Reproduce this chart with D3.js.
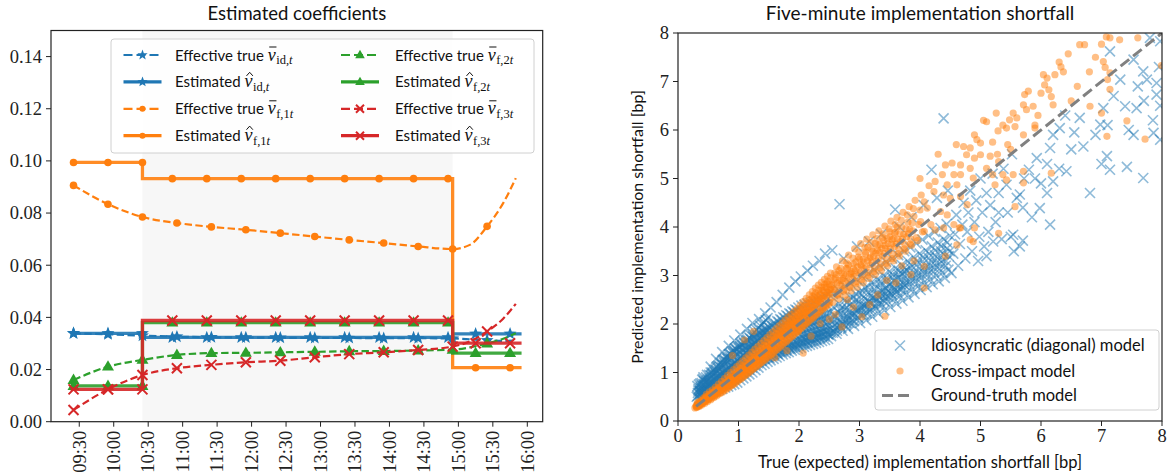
<!DOCTYPE html>
<html><head><meta charset="utf-8">
<script src="https://cdn.jsdelivr.net/npm/d3@7"></script>
<style>body{margin:0;background:#fff}svg{display:block}</style>
</head><body>
<svg id="c" width="1172" height="476"></svg>
<script>
// ---------------- LEFT CHART DATA ----------------
const timeTickLabels = ["09:30","10:00","10:30","11:00","11:30","12:00","12:30","13:00","13:30","14:00","14:30","15:00","15:30","16:00"];
const timeTickMinutes = [0,30,60,90,120,150,180,210,240,270,300,330,360,390];
const yTicksLeft = [0,0.02,0.04,0.06,0.08,0.10,0.12,0.14];
const trueMinutes = [-5,25,55,85,115,145,175,205,235,265,295,325,340,355,369,380];
const trueMarkerMinutes = [-5,25,55,85,115,145,175,205,235,265,295,325,355];
const trueId = [0.0339,0.0335,0.0330,0.0326,0.0324,0.0323,0.0322,0.0321,0.0321,0.0320,0.0320,0.0319,0.0316,0.0312,0.0310,0.0311];
const trueF1 = [0.0906,0.0834,0.0785,0.0762,0.0747,0.0736,0.0723,0.0710,0.0697,0.0685,0.0672,0.0662,0.0678,0.0749,0.0838,0.0934];
const trueF2 = [0.0160,0.0211,0.0237,0.0256,0.0263,0.0264,0.0266,0.0268,0.0270,0.0271,0.0273,0.0276,0.0285,0.0300,0.0318,0.0339];
const trueF3 = [0.0045,0.0124,0.0179,0.0205,0.0218,0.0228,0.0234,0.0247,0.0259,0.0266,0.0275,0.0288,0.0308,0.0346,0.0395,0.0452];
const estBreaks = [-7.5,55,325,385];
const estMarkerMinutes = [[-5,25,55],[81,111,141,171,201,231,261,291,321],[345,375]];
const estId = [0.0339,0.0323,0.0337];
const estF1 = [0.0994,0.0932,0.0207];
const estF2 = [0.0137,0.0380,0.0263];
const estF3 = [0.0124,0.0388,0.0301];
const shadedSpan = [55,325];

// ---------------- RIGHT CHART DATA ----------------
const xTicksRight = [0,1,2,3,4,5,6,7,8];
const yTicksRight = [0,1,2,3,4,5,6,7,8];
const groundTruth = [[0.3,0.3],[8,8]];
const idioPoints = [
[0.31,0.50],[0.33,0.58],[0.34,0.66],[0.32,0.72],[0.35,0.47],[0.36,0.62],
[0.37,0.53],[0.38,0.70],[0.39,0.78],[0.37,0.61],[0.40,0.48],[0.40,0.85],
[0.41,0.58],[0.42,0.66],[0.43,0.82],[0.44,0.52],[0.42,0.90],[0.45,0.74],
[0.46,0.60],[0.47,0.69],[0.48,0.95],[0.49,0.55],[0.47,0.83],[0.50,0.77],
[0.51,0.64],[0.52,0.88],[0.53,0.56],[0.54,1.00],[0.52,0.74],[0.55,0.82],[0.54,1.12],
[0.56,0.68],[0.57,0.94],[0.58,0.60],[0.59,1.05],[0.57,0.79],[0.60,0.87],
[0.61,0.72],[0.62,0.98],[0.63,0.62],[0.64,1.12],[0.62,0.84],[0.65,0.92],[0.63,1.28],
[0.66,0.76],[0.67,1.04],[0.68,0.64],[0.69,1.20],[0.67,0.88],[0.70,0.98],
[0.71,0.80],[0.72,1.10],[0.73,0.66],[0.74,1.26],[0.72,0.93],[0.75,1.02],[0.73,1.42],
[0.76,0.84],[0.77,1.16],[0.78,0.69],[0.79,1.32],[0.77,0.97],[0.80,1.06],
[0.81,0.88],[0.82,1.22],[0.83,0.71],[0.84,1.38],[0.82,1.02],[0.85,1.12],[0.84,1.55],
[0.86,0.92],[0.87,1.28],[0.88,0.74],[0.89,1.44],[0.87,1.06],[0.90,1.17],
[0.91,0.96],[0.92,1.33],[0.93,0.76],[0.94,1.50],[0.92,1.10],[0.95,1.22],[0.93,1.66],
[0.96,1.00],[0.97,1.38],[0.98,0.79],[0.99,1.54],[0.97,1.14],[1.00,1.26],
[1.01,1.04],[1.02,1.42],[1.03,0.84],[1.04,1.58],[1.02,1.18],[1.05,1.30],[1.03,1.78],
[1.06,1.08],[1.07,1.46],[1.08,0.88],[1.09,1.62],[1.07,1.22],[1.10,1.34],
[1.11,1.12],[1.12,1.50],[1.13,0.92],[1.14,1.66],[1.12,1.26],[1.15,1.38],[1.14,1.90],
[1.16,1.16],[1.17,1.54],[1.18,0.96],[1.19,1.70],[1.17,1.30],[1.20,1.42],
[1.21,1.20],[1.22,1.58],[1.23,1.00],[1.24,1.74],[1.22,1.34],[1.25,1.46],[1.23,2.02],
[1.26,1.24],[1.27,1.62],[1.28,1.05],[1.29,1.78],[1.27,1.38],[1.30,1.50],
[1.31,1.28],[1.32,1.66],[1.33,1.10],[1.34,1.82],[1.32,1.42],[1.35,1.55],[1.34,2.10],
[1.36,1.32],[1.37,1.70],[1.38,1.15],[1.39,1.86],[1.37,1.46],[1.40,1.60],
[1.41,1.36],[1.42,1.74],[1.43,1.18],[1.44,1.90],[1.42,1.50],[1.45,1.64],[1.44,2.22],
[1.46,1.40],[1.47,1.78],[1.48,1.22],[1.49,1.94],[1.47,1.54],[1.50,1.68],
[1.51,1.44],[1.52,1.82],[1.53,1.25],[1.54,1.98],[1.52,1.58],[1.55,1.72],[1.53,2.34],
[1.56,1.47],[1.57,1.86],[1.58,1.28],[1.59,2.02],[1.57,1.62],[1.60,1.75],
[1.61,1.50],[1.62,1.90],[1.63,1.31],[1.64,2.06],[1.62,1.66],[1.65,1.78],[1.63,2.45],
[1.66,1.53],[1.67,1.94],[1.68,1.34],[1.69,2.10],[1.67,1.70],[1.70,1.82],
[1.71,1.56],[1.72,1.98],[1.73,1.37],[1.74,2.14],[1.72,1.74],[1.75,1.86],[1.73,2.60],
[1.76,1.58],[1.77,2.02],[1.78,1.40],[1.79,2.18],[1.77,1.76],[1.80,1.90],
[1.81,1.60],[1.82,2.06],[1.83,1.42],[1.84,2.22],[1.82,1.78],[1.85,1.93],[1.84,2.75],
[1.86,1.62],[1.87,2.10],[1.88,1.45],[1.89,2.26],[1.87,1.80],[1.90,1.96],
[1.91,1.64],[1.92,2.14],[1.93,1.47],[1.94,2.30],[1.92,1.82],[1.95,1.99],[1.94,2.88],
[1.96,1.66],[1.97,2.18],[1.98,1.49],[1.99,2.34],[1.97,1.84],[2.00,2.02],
[2.01,1.68],[2.02,2.20],[2.03,1.51],[2.04,2.38],[2.02,1.86],[2.05,2.04],[2.03,2.98],
[2.06,1.70],[2.07,2.22],[2.08,1.53],[2.09,2.40],[2.07,1.88],[2.10,2.06],
[2.11,1.72],[2.12,2.24],[2.13,1.55],[2.14,2.42],[2.12,1.90],[2.15,2.08],[2.14,3.10],
[2.16,1.74],[2.17,2.26],[2.18,1.57],[2.19,2.44],[2.17,1.92],[2.20,2.10],
[2.21,1.76],[2.22,2.28],[2.23,1.59],[2.24,2.46],[2.22,1.94],[2.25,2.12],[2.23,3.20],
[2.26,1.78],[2.27,2.30],[2.28,1.61],[2.29,2.50],[2.27,1.96],[2.30,2.14],
[2.31,1.80],[2.32,2.32],[2.33,1.63],[2.34,2.52],[2.32,1.98],[2.35,2.16],[2.34,3.30],
[2.36,1.82],[2.37,2.34],[2.38,1.65],[2.39,2.55],[2.37,2.00],[2.40,2.18],
[2.41,1.84],[2.42,2.36],[2.43,1.67],[2.44,2.58],[2.42,2.02],[2.45,2.20],[2.43,3.45],
[2.46,1.86],[2.47,2.38],[2.48,1.69],[2.49,2.62],[2.47,2.04],[2.50,2.22],
[2.53,1.75],[2.55,2.05],[2.57,2.35],[2.56,2.62],[2.59,1.90],[2.58,2.20],[2.55,3.52],
[2.62,1.80],[2.64,2.12],[2.66,2.42],[2.65,2.70],[2.68,1.95],[2.69,2.28],[2.67,4.47],
[2.72,1.86],[2.73,2.18],[2.75,2.48],[2.76,2.78],[2.78,2.02],[2.79,2.34],[2.74,3.35],
[2.81,1.90],[2.83,2.24],[2.85,2.55],[2.84,2.85],[2.88,2.08],[2.89,2.40],
[2.91,1.96],[2.92,2.30],[2.94,2.62],[2.95,2.92],[2.97,2.14],[2.99,2.46],[2.96,3.60],
[3.01,2.02],[3.03,2.36],[3.05,2.68],[3.04,2.98],[3.07,2.20],[3.09,2.52],
[3.11,2.08],[3.12,2.42],[3.14,2.75],[3.15,3.05],[3.17,2.26],[3.19,2.58],[3.16,3.70],
[3.21,2.15],[3.23,2.48],[3.25,2.82],[3.24,3.12],[3.27,2.32],[3.29,2.64],
[3.31,2.22],[3.33,2.55],[3.35,2.88],[3.34,3.20],[3.37,2.40],[3.39,2.70],[3.36,3.85],
[3.41,2.28],[3.43,2.62],[3.45,2.95],[3.44,3.28],[3.47,2.46],[3.49,2.78],
[3.51,2.35],[3.53,2.68],[3.55,3.02],[3.54,3.35],[3.57,2.52],[3.59,2.85],[3.59,4.36],
[3.61,2.42],[3.63,2.75],[3.65,3.10],[3.64,3.42],[3.67,2.58],[3.69,2.92],[3.66,4.00],
[3.71,2.48],[3.73,2.82],[3.75,3.16],[3.74,3.50],[3.77,2.65],[3.79,3.00],
[3.81,2.55],[3.83,2.88],[3.85,3.22],[3.84,3.58],[3.87,2.72],[3.89,3.06],[3.86,4.20],
[3.91,2.62],[3.93,2.95],[3.95,3.30],[3.94,3.66],[3.97,2.78],[3.99,3.14],
[4.01,2.70],[4.03,3.02],[4.05,3.38],[4.04,3.74],[4.07,2.86],[4.09,3.20],[4.06,4.45],
[4.11,2.76],[4.13,3.10],[4.15,3.45],[4.14,3.82],[4.17,2.92],[4.19,3.28],[4.19,5.18],
[4.21,2.82],[4.23,3.16],[4.25,3.52],[4.24,3.90],[4.27,3.00],[4.29,3.36],[4.28,4.60],
[4.31,2.88],[4.33,3.24],[4.35,3.60],[4.34,3.98],[4.37,3.06],[4.39,3.44],[4.39,6.24],
[4.41,2.95],[4.43,3.30],[4.45,3.68],[4.44,4.06],[4.47,3.12],[4.49,3.50],[4.46,4.75],
[4.52,3.05],[4.55,3.45],[4.58,3.85],[4.60,4.25],[4.63,3.20],[4.66,3.65],[4.70,4.05],[4.72,4.50],
[4.75,3.35],[4.78,3.90],[4.80,4.30],[4.83,4.75],[4.86,3.50],[4.90,4.10],[4.93,4.55],[4.96,3.30],
[4.98,3.80],[5.00,5.00],[5.03,4.30],[5.06,3.60],[5.10,4.70],[5.13,3.90],[5.16,4.45],[5.21,3.70],
[5.20,5.10],[5.25,4.10],[5.30,4.70],[5.35,3.75],[5.38,5.20],[5.43,4.87],[5.45,4.30],[5.50,3.80],
[5.54,3.84],[5.52,5.50],[5.60,4.60],[5.65,4.67],[5.70,3.72],[5.72,5.00],[5.80,5.18],[5.85,4.20],
[5.93,5.42],[5.98,4.39],[6.00,4.90],[6.10,4.70],[6.10,5.30],[6.15,5.63],[6.15,4.05],[6.20,4.94],
[6.20,5.90],[6.31,6.04],[6.40,6.30],[6.42,5.15],[6.50,5.60],[6.64,6.25],[6.70,5.66],[6.81,4.70],
[6.90,5.90],[6.98,6.11],[7.00,5.30],[7.03,6.45],[7.09,5.46],[7.10,6.10],[7.14,5.18],[7.14,7.62],
[7.20,6.70],[7.31,7.04],[7.39,6.49],[7.42,5.24],[7.45,6.00],[7.53,7.45],[7.53,5.90],[7.58,6.45],
[7.60,6.90],[7.69,7.21],[7.69,5.01],[7.75,7.04],[7.80,7.90],[7.86,5.94],[7.91,6.97],[7.91,6.73],
[7.97,7.83],[7.97,6.50],[7.97,5.80],[7.95,7.30],[7.85,6.20],[7.70,6.60],[6.55,5.95],[6.30,5.20],
[5.90,5.00],[5.70,4.40],[5.30,4.30],[5.10,3.40],[5.55,3.50],[5.65,3.60]
];
const idioPointsDense = [
[0.325,0.52],[0.335,0.63],[0.345,0.75],[0.375,0.57],[0.385,0.66],[0.365,0.77],
[0.425,0.55],[0.435,0.71],[0.415,0.86],[0.475,0.58],[0.485,0.74],[0.465,0.90],
[0.525,0.61],[0.535,0.79],[0.515,0.95],[0.575,0.64],[0.585,0.84],[0.565,1.00],
[0.625,0.67],[0.635,0.90],[0.615,1.06],[0.675,0.70],[0.685,0.94],[0.665,1.14],
[0.725,0.72],[0.735,1.00],[0.715,1.20],[0.775,0.76],[0.785,1.05],[0.765,1.26],
[0.825,0.79],[0.835,1.10],[0.815,1.32],[0.875,0.83],[0.885,1.15],[0.865,1.38],
[0.925,0.86],[0.935,1.20],[0.915,1.44],[0.975,0.90],[0.985,1.25],[0.965,1.48],
[1.025,0.94],[1.035,1.30],[1.015,1.52],[1.075,0.98],[1.085,1.35],[1.065,1.56],
[1.125,1.02],[1.135,1.40],[1.115,1.60],[1.175,1.06],[1.185,1.45],[1.165,1.64],
[1.225,1.10],[1.235,1.50],[1.215,1.68],[1.275,1.14],[1.285,1.54],[1.265,1.72],
[1.325,1.19],[1.335,1.58],[1.315,1.76],[1.375,1.24],[1.385,1.62],[1.365,1.80],
[1.425,1.28],[1.435,1.66],[1.415,1.84],[1.475,1.32],[1.485,1.70],[1.465,1.88],
[1.525,1.35],[1.535,1.74],[1.515,1.92],[1.575,1.38],[1.585,1.78],[1.565,1.96],
[1.625,1.41],[1.635,1.82],[1.615,2.00],[1.675,1.44],[1.685,1.86],[1.665,2.04],
[1.725,1.47],[1.735,1.90],[1.715,2.08],[1.775,1.50],[1.785,1.94],[1.765,2.12],
[1.825,1.52],[1.835,1.98],[1.815,2.16],[1.875,1.55],[1.885,2.02],[1.865,2.20],
[1.925,1.57],[1.935,2.05],[1.915,2.24],[1.975,1.59],[1.985,2.08],[1.965,2.28],
[2.025,1.61],[2.035,1.78],[2.015,1.95],[2.075,1.63],[2.085,1.80],[2.065,1.98],
[2.125,1.65],[2.135,1.82],[2.115,2.00],[2.175,1.67],[2.185,1.84],[2.165,2.02],
[2.225,1.69],[2.235,1.86],[2.215,2.04],[2.275,1.71],[2.285,1.88],[2.265,2.06],
[2.325,1.73],[2.335,1.90],[2.315,2.08],[2.375,1.75],[2.385,1.92],[2.365,2.10],
[2.425,1.77],[2.435,1.94],[2.415,2.12],[2.475,1.79],[2.485,1.96],[2.465,2.14],
[2.525,1.82],[2.545,2.10],[2.575,1.85],[2.595,2.15],[2.625,1.92],[2.645,2.25],[2.675,1.98],[2.695,2.32],
[2.725,2.00],[2.745,2.30],[2.775,2.08],[2.795,2.45],[2.825,2.10],[2.845,2.40],[2.875,2.18],[2.895,2.55],
[2.925,2.20],[2.945,2.50],[2.975,2.28],[2.995,2.65],[3.025,2.28],[3.045,2.60],[3.075,2.36],[3.095,2.75],
[3.125,2.35],[3.145,2.65],[3.175,2.44],[3.195,2.85],[3.225,2.42],[3.245,2.72],[3.275,2.52],[3.295,2.92],
[3.325,2.48],[3.345,2.80],[3.375,2.60],[3.395,3.00],[3.425,2.55],[3.445,2.88],[3.475,2.68],[3.495,3.08],
[3.525,2.62],[3.545,2.95],[3.575,2.75],[3.595,3.15],[3.625,2.68],[3.645,3.02],[3.675,2.82],[3.695,3.22],
[3.725,2.75],[3.745,3.08],[3.775,2.90],[3.795,3.30],[3.825,2.82],[3.845,3.15],[3.875,2.98],[3.895,3.38],
[3.925,2.88],[3.945,3.22],[3.975,3.05],[3.995,3.45],[4.025,2.95],[4.045,3.30],[4.075,3.12],[4.095,3.52],
[4.125,3.02],[4.145,3.36],[4.175,3.20],[4.195,3.60],[4.225,3.08],[4.245,3.42],[4.275,3.26],[4.295,3.68],
[4.325,3.14],[4.345,3.50],[4.375,3.32],[4.395,3.75],[4.425,3.20],[4.445,3.56],[4.475,3.40],[4.495,3.82]
];
const idioPointsCore = [
[0.36,0.56],[0.37,0.68],[0.39,0.60],[0.40,0.73],[0.42,0.62],[0.43,0.76],[0.45,0.64],[0.46,0.80],[0.48,0.67],[0.49,0.85],
[0.51,0.70],[0.52,0.81],[0.54,0.74],[0.55,0.93],[0.57,0.72],[0.58,0.97],[0.60,0.76],[0.61,1.00],[0.63,0.80],[0.64,1.03],
[0.66,0.84],[0.67,1.08],[0.69,0.88],[0.70,1.12],[0.72,0.86],[0.73,1.16],[0.75,0.92],[0.76,1.20],[0.78,0.96],[0.79,1.24],
[0.81,1.00],[0.82,1.28],[0.84,1.04],[0.85,1.32],[0.87,1.08],[0.88,1.36],[0.90,1.12],[0.91,1.40],[0.93,1.16],[0.94,1.44],
[0.96,1.20],[0.97,1.46],[0.99,1.24],[1.00,1.50],[1.02,1.28],[1.03,1.54],[1.05,1.32],[1.06,1.58],[1.08,1.36],[1.09,1.60],
[1.11,1.40],[1.12,1.64],[1.14,1.44],[1.15,1.68],[1.17,1.48],[1.18,1.72],[1.20,1.52],[1.21,1.76],[1.23,1.56],[1.24,1.80],
[1.26,1.58],[1.27,1.84],[1.29,1.62],[1.30,1.88],[1.32,1.66],[1.33,1.92],[1.35,1.70],[1.36,1.96],[1.38,1.74],[1.39,2.00],
[1.41,1.78],[1.42,2.04],[1.44,1.82],[1.45,2.08],[1.47,1.86],[1.48,2.12],
[1.51,1.30],[1.54,1.40],[1.58,1.34],[1.61,1.44],[1.65,1.38],[1.68,1.48],[1.72,1.42],[1.75,1.52],[1.79,1.45],[1.82,1.55],
[1.86,1.49],[1.89,1.58],[1.93,1.52],[1.96,1.62],[2.00,1.56],[2.03,1.65],[2.07,1.60],[2.10,1.68],[2.14,1.62],[2.17,1.72],
[2.21,1.66],[2.24,1.75],[2.28,1.68],[2.31,1.78],[2.35,1.72],[2.38,1.82],[2.42,1.74],[2.45,1.85],[2.49,1.78],[2.52,1.90],
[2.56,1.82],[2.59,1.98],[2.63,1.86],[2.66,2.05],[2.70,1.92],[2.73,2.10],[2.77,1.96],[2.80,2.16],[2.84,2.02],[2.87,2.22],
[2.91,2.06],[2.94,2.28],[2.98,2.12],[3.01,2.34],[3.05,2.18],[3.08,2.40],[3.12,2.22],[3.15,2.46],[3.19,2.30],[3.22,2.54],
[3.26,2.36],[3.29,2.60],[3.33,2.42],[3.36,2.68],[3.40,2.48],[3.43,2.74],[3.47,2.56],[3.50,2.82],[3.54,2.60],[3.57,2.90],
[3.61,2.66],[3.64,2.96],[3.68,2.72],[3.71,3.04],[3.75,2.80],[3.78,3.10]
];
const crossPoints = [
[0.28,0.27],[0.30,0.32],[0.31,0.28],[0.32,0.38],[0.33,0.30],
[0.34,0.35],[0.35,0.30],[0.36,0.41],[0.37,0.34],[0.38,0.38],
[0.39,0.33],[0.40,0.43],[0.41,0.37],[0.42,0.47],[0.43,0.40],
[0.44,0.36],[0.45,0.50],[0.46,0.42],[0.47,0.55],[0.48,0.45],
[0.49,0.40],[0.50,0.52],[0.51,0.46],[0.52,0.60],[0.53,0.49],
[0.54,0.44],[0.55,0.56],[0.56,0.50],[0.57,0.64],[0.58,0.53],
[0.59,0.48],[0.60,0.60],[0.61,0.54],[0.62,0.70],[0.63,0.57],
[0.64,0.52],[0.65,0.65],[0.66,0.58],[0.67,0.76],[0.68,0.62],
[0.69,0.56],[0.70,0.70],[0.71,0.63],[0.72,0.82],[0.73,0.66],
[0.74,0.60],[0.75,0.75],[0.76,0.68],[0.77,0.88],[0.78,0.71],
[0.79,0.64],[0.80,0.80],[0.81,0.72],[0.82,0.94],[0.83,0.76],
[0.84,0.68],[0.85,0.85],[0.86,0.77],[0.87,1.00],[0.88,0.81],
[0.89,0.73],[0.90,0.90],[0.91,0.82],[0.92,1.06],[0.93,0.86],
[0.94,0.77],[0.95,0.95],[0.96,0.87],[0.97,1.12],[0.98,0.91],
[0.99,0.82],[1.00,1.00],[1.01,0.92],[1.02,1.18],[1.03,0.96],
[1.04,0.86],[1.05,1.05],[1.06,0.97],[1.07,1.24],[1.08,1.01],
[1.09,0.91],[1.10,1.10],[1.11,1.02],[1.12,1.30],[1.13,1.06],
[1.14,0.96],[1.15,1.15],[1.16,1.07],[1.17,1.36],[1.18,1.12],
[1.19,1.01],[1.20,1.21],[1.21,1.12],[1.22,1.42],[1.23,1.17],
[1.24,1.06],[1.25,1.27],[1.26,1.17],[1.27,1.48],[1.28,1.22],
[1.29,1.11],[1.30,1.33],[1.31,1.22],[1.32,1.54],[1.33,1.28],
[1.34,1.16],[1.35,1.39],[1.36,1.28],[1.37,1.60],[1.38,1.34],
[1.39,1.21],[1.40,1.45],[1.41,1.33],[1.42,1.66],[1.43,1.39],
[1.44,1.26],[1.45,1.51],[1.46,1.38],[1.47,1.72],[1.48,1.45],
[1.49,1.31],[1.50,1.57],[1.51,1.44],[1.52,1.78],[1.53,1.50],
[1.54,1.36],[1.55,1.63],[1.56,1.49],[1.57,1.84],[1.58,1.56],
[1.59,1.42],[1.60,1.69],[1.61,1.55],[1.62,1.90],[1.63,1.62],
[1.64,1.47],[1.65,1.75],[1.66,1.61],[1.67,1.96],[1.68,1.68],
[1.69,1.52],[1.70,1.81],[1.71,1.66],[1.72,2.02],[1.73,1.74],
[1.74,1.58],[1.75,1.87],[1.76,1.72],[1.77,2.08],[1.78,1.80],
[1.79,1.63],[1.80,1.93],[1.81,1.78],[1.82,2.14],[1.83,1.86],
[1.84,1.69],[1.85,1.99],[1.86,1.84],[1.87,2.20],[1.88,1.92],
[1.89,1.74],[1.90,2.05],[1.91,1.90],[1.92,2.26],[1.93,1.98],
[1.94,1.80],[1.95,2.11],[1.96,1.96],[1.97,2.32],[1.98,2.04],
[1.99,1.86],[2.00,2.18],[2.01,2.02],[2.02,2.39],[2.03,2.10],
[2.04,1.91],[2.05,2.24],[2.06,2.08],[2.07,2.46],[2.08,2.16],
[2.09,1.97],[2.10,2.30],[2.11,2.14],[2.12,2.53],[2.13,2.22],
[2.14,2.02],[2.15,2.37],[2.16,2.20],[2.17,2.60],[2.18,2.28],
[2.19,2.08],[2.20,2.43],[2.21,2.26],[2.22,2.67],[2.23,2.34],
[2.24,2.13],[2.25,2.50],[2.26,2.32],[2.27,2.74],[2.28,2.41],
[2.29,2.19],[2.30,2.56],[2.31,2.38],[2.32,2.80],[2.33,2.47],
[2.34,2.24],[2.35,2.63],[2.36,2.44],[2.37,2.86],[2.38,2.53],
[2.39,2.30],[2.40,2.69],[2.41,2.50],[2.42,2.92],[2.43,2.59],
[2.44,2.35],[2.45,2.76],[2.46,2.56],[2.47,2.98],[2.48,2.65],
[2.49,2.40],[2.50,2.82],[2.51,2.62],[2.52,3.05],[2.53,2.71],
[2.56,2.45],[2.58,2.72],[2.60,2.95],[2.62,3.18],[2.64,2.60],[2.63,2.85],
[2.66,2.52],[2.68,2.80],[2.70,3.05],[2.72,3.30],[2.74,2.68],[2.73,2.94],
[2.76,2.60],[2.78,2.88],[2.80,3.14],[2.82,3.42],[2.84,2.76],[2.83,3.02],
[2.86,2.68],[2.88,2.96],[2.90,3.24],[2.92,3.55],[2.94,2.84],[2.93,3.10],
[2.96,2.76],[2.98,3.05],[3.00,3.34],[3.02,3.66],[3.04,2.92],[3.03,3.20],
[3.06,2.85],[3.08,3.14],[3.10,3.44],[3.12,3.75],[3.14,3.00],[3.13,3.30],
[3.16,2.94],[3.18,3.22],[3.20,3.54],[3.22,3.84],[3.24,3.08],[3.23,3.40],
[3.26,3.02],[3.28,3.30],[3.30,3.62],[3.32,3.92],[3.34,3.16],[3.33,3.48],
[3.36,3.10],[3.38,3.40],[3.40,3.72],[3.42,4.02],[3.44,3.25],[3.43,3.56],
[3.46,3.20],[3.48,3.50],[3.50,3.80],[3.52,4.12],[3.54,3.35],[3.53,3.65],
[3.56,3.30],[3.58,3.60],[3.60,3.90],[3.62,4.20],[3.64,3.45],[3.63,3.75],
[3.66,3.40],[3.68,3.70],[3.70,4.00],[3.72,4.30],[3.74,3.55],[3.73,3.85],
[3.76,3.50],[3.78,3.80],[3.80,4.10],[3.82,4.42],[3.84,3.65],[3.83,3.95],
[3.86,3.62],[3.88,3.92],[3.90,4.22],[3.92,4.55],[3.94,3.78],
[3.96,3.72],[3.98,4.05],[4.00,4.35],[4.02,4.66],[4.04,3.90],
[4.07,4.52],[4.12,4.39],[4.01,4.11],[4.18,4.05],[4.07,3.91],[4.25,3.94],[4.25,4.94],[4.23,4.73],
[4.34,4.32],[4.39,4.66],[4.39,3.98],[4.45,4.25],[4.50,4.59],[4.56,4.05],[4.65,3.98],[4.67,4.63],
[4.78,4.46],[4.37,5.08],[4.42,5.28],[4.53,5.32],[4.56,5.08],[4.67,5.08],[4.67,5.28],[4.61,4.87],
[4.45,4.87],[4.83,5.21],[4.88,5.01],[4.72,5.66],[4.83,5.63],[4.77,5.49],[4.90,5.42],[4.94,5.80],
[5.00,5.73],[5.00,5.49],[5.16,5.46],[5.28,5.50],[5.30,5.35],[5.10,5.21],[5.20,5.08],[5.37,5.08],
[5.24,4.87],[5.43,4.97],[5.54,5.08],[5.71,5.15],[5.71,4.91],[5.10,6.17],[5.26,6.35],[5.29,5.98],
[5.37,6.10],[5.43,6.04],[5.48,6.21],[5.57,6.07],[5.60,6.25],[5.54,6.35],[5.71,5.90],[5.71,6.52],
[5.73,6.73],[5.76,6.42],[5.79,6.80],[5.87,6.49],[5.90,6.10],[5.90,6.04],[6.00,6.76],[6.04,7.14],
[6.06,6.93],[6.10,7.07],[6.13,6.83],[6.17,6.69],[6.20,6.52],[6.23,7.14],[6.30,7.40],[6.33,7.30],
[6.37,7.20],[6.45,7.57],[6.64,7.76],[6.72,7.76],[7.00,7.77],[7.08,7.92],[7.14,7.90],[7.30,7.86],
[7.03,7.41],[7.06,7.29],[7.14,7.18],[7.10,7.04],[7.14,6.84],[6.81,6.49],[7.00,6.35],[7.42,6.19],
[7.09,5.87],[7.72,5.81],[7.99,7.33],[6.17,5.11],[5.57,4.42],[5.30,3.87],[4.90,3.98],[4.67,3.98],
[4.61,3.63],[4.88,3.70],[4.83,3.74],[6.60,6.90],[6.90,7.50],[7.60,7.90],[6.50,6.60],[6.80,7.20],
[4.30,5.50],[4.60,5.70],[4.00,5.00],[4.15,4.85],[4.90,5.90],[5.05,6.20],[5.50,5.60],[5.95,6.30],
[5.20,5.75],[5.45,5.70],
[1.99,1.84],[2.35,2.01],[2.07,1.40],[2.71,1.94],[3.04,2.15],[3.17,2.40],[3.60,2.85],[3.85,3.02],
[4.07,3.19],[4.07,2.74],[4.42,3.40],[2.20,1.75],[2.50,2.10],[2.90,2.35],[3.30,2.60],[1.80,1.45],
[1.60,1.30],[2.60,2.20],[3.45,2.90],[3.90,3.30],[1.10,1.67],[1.25,1.85],[0.90,1.35],[2.80,2.50],
[3.70,3.20],[3.42,2.16]
];
const crossPointsDense = [
[0.305,0.29],[0.315,0.33],[0.325,0.36],[0.355,0.32],[0.365,0.36],[0.375,0.40],
[0.405,0.36],[0.415,0.40],[0.425,0.44],[0.455,0.40],[0.465,0.45],[0.475,0.50],
[0.505,0.44],[0.515,0.49],[0.525,0.55],[0.555,0.47],[0.565,0.53],[0.575,0.59],
[0.605,0.51],[0.615,0.57],[0.625,0.64],[0.655,0.55],[0.665,0.61],[0.675,0.69],
[0.705,0.59],[0.715,0.66],[0.725,0.74],[0.755,0.63],[0.765,0.70],[0.775,0.79],
[0.805,0.67],[0.815,0.75],[0.825,0.85],[0.855,0.71],[0.865,0.80],[0.875,0.90],
[0.905,0.75],[0.915,0.85],[0.925,0.96],[0.955,0.80],[0.965,0.90],[0.975,1.02],
[1.005,0.85],[1.015,0.95],[1.025,1.08],[1.055,0.89],[1.065,1.00],[1.075,1.14],
[1.105,0.94],[1.115,1.05],[1.125,1.20],[1.155,0.99],[1.165,1.10],[1.175,1.26],
[1.205,1.04],[1.215,1.16],[1.225,1.32],[1.255,1.09],[1.265,1.22],[1.275,1.38],
[1.305,1.14],[1.315,1.27],[1.325,1.44],[1.355,1.19],[1.365,1.33],[1.375,1.50],
[1.405,1.24],[1.415,1.39],[1.425,1.56],[1.455,1.29],[1.465,1.44],[1.475,1.62],
[1.505,1.34],[1.515,1.50],[1.525,1.68],[1.555,1.39],[1.565,1.56],[1.575,1.74],
[1.605,1.45],[1.615,1.62],[1.625,1.80],[1.655,1.50],[1.665,1.68],[1.675,1.86],
[1.705,1.55],[1.715,1.74],[1.725,1.92],[1.755,1.61],[1.765,1.80],[1.775,1.98],
[1.805,1.66],[1.815,1.86],[1.825,2.04],[1.855,1.72],[1.865,1.92],[1.875,2.10],
[1.905,1.77],[1.915,1.98],[1.925,2.16],[1.955,1.83],[1.965,2.04],[1.975,2.22],
[2.005,1.89],[2.015,2.10],[2.025,2.29],[2.055,1.94],[2.065,2.16],[2.075,2.36],
[2.105,2.00],[2.115,2.22],[2.125,2.43],[2.155,2.05],[2.165,2.28],[2.175,2.50],
[2.205,2.11],[2.215,2.35],[2.225,2.57],[2.255,2.16],[2.265,2.41],[2.275,2.64],
[2.305,2.22],[2.315,2.47],[2.325,2.70],[2.355,2.27],[2.365,2.53],[2.375,2.76],
[2.405,2.33],[2.415,2.59],[2.425,2.82],[2.455,2.38],[2.465,2.66],[2.475,2.88],
[2.505,2.44],[2.515,2.72],[2.525,2.95],
[2.55,2.55],[2.57,2.82],[2.59,3.05],[2.61,2.70],[2.65,2.62],[2.67,2.90],[2.69,3.15],[2.71,2.78],
[2.75,2.72],[2.77,3.00],[2.79,3.26],[2.81,2.88],[2.85,2.80],[2.87,3.08],[2.89,3.36],[2.91,2.98],
[2.95,2.88],[2.97,3.18],[2.99,3.48],[3.01,3.06],[3.05,2.98],[3.07,3.28],[3.09,3.58],[3.11,3.16],
[3.15,3.06],[3.17,3.36],[3.19,3.68],[3.21,3.26],[3.25,3.15],[3.27,3.46],[3.29,3.76],[3.31,3.35],
[3.35,3.24],[3.37,3.56],[3.39,3.86],[3.41,3.45],[3.45,3.34],[3.47,3.66],[3.49,3.96],[3.51,3.55],
[3.55,3.44],[3.57,3.76],[3.59,4.05],[3.61,3.65],[3.65,3.54],[3.67,3.86],[3.69,4.14],[3.71,3.75],
[3.75,3.64],[3.77,3.96],[3.79,4.25],[3.81,3.86],[3.85,3.75],[3.87,4.08],[3.89,4.38]
];
const crossPointsCore = [
[0.30,0.30],[0.34,0.33],[0.38,0.36],[0.42,0.41],[0.46,0.47],[0.50,0.48],[0.54,0.52],[0.58,0.58],[0.62,0.62],[0.66,0.67],
[0.70,0.65],[0.74,0.70],[0.78,0.76],[0.82,0.82],[0.86,0.88],[0.90,0.86],[0.94,0.92],[0.98,0.98],[1.02,1.04],[1.06,1.10],
[1.10,1.06],[1.14,1.14],[1.18,1.20],[1.22,1.26],[1.26,1.32],[1.30,1.28],[1.34,1.34],[1.38,1.42],[1.42,1.48],[1.46,1.54],
[1.50,1.50],[1.54,1.58],[1.58,1.66],[1.62,1.72],[1.66,1.80],[1.70,1.76],[1.74,1.84],[1.78,1.92],[1.82,1.98],[1.86,2.06],
[1.90,2.00],[1.94,2.10],[1.98,2.18],[2.02,2.24],[2.06,2.32],[2.10,2.26],[2.14,2.36],[2.18,2.44],[2.22,2.52],[2.26,2.60],
[2.30,2.50],[2.34,2.60],[2.38,2.70],[2.42,2.76],[2.46,2.84],[2.50,2.70],[2.54,2.80],[2.58,2.92],[2.62,3.02],[2.66,3.10],
[2.70,2.90],[2.74,3.02],[2.78,3.14],[2.82,3.22],[2.86,3.04],[2.90,3.14],[2.94,3.28],[2.98,3.38],[3.02,3.22],[3.06,3.34],
[3.10,3.48],[3.14,3.58],[3.18,3.38],[3.22,3.50],[3.26,3.66],[3.30,3.52],[3.34,3.64],[3.38,3.78],[3.42,3.62],[3.46,3.76],
[3.50,3.90],[3.54,3.74],[3.58,3.88],[3.62,4.00]
];

// ---------------- DRAWING ----------------
const C = {blue:"#1f77b4", orange:"#ff7f0e", green:"#2ca02c", red:"#d62728", gray:"#808080"};
const SANS = "Lato, 'Open Sans', sans-serif";
const SERIF = "'Liberation Serif', 'DejaVu Serif', serif";
const svg = d3.select("#c");

function starPath(R){const r=R*0.42;let p="";for(let i=0;i<10;i++){const a=-Math.PI/2+i*Math.PI/5;const rr=i%2?r:R;p+=(i?"L":"M")+(rr*Math.cos(a)).toFixed(2)+","+(rr*Math.sin(a)).toFixed(2);}return p+"Z";}
function triPath(s){const h=s*0.866;return `M0,${-h*0.62}L${s/2},${h*0.38}L${-s/2},${h*0.38}Z`;}
function xPath(s){return `M${-s},${-s}L${s},${s}M${-s},${s}L${s},${-s}`;}
function drawMarker(g,type,color,x,y,k){
  k = k||1;
  if(type==="star") g.append("path").attr("d",starPath(6.8*k)).attr("transform",`translate(${x},${y})`).attr("fill",color);
  else if(type==="tri") g.append("path").attr("d",triPath(12*k)).attr("transform",`translate(${x},${y})`).attr("fill",color);
  else if(type==="circle") g.append("circle").attr("cx",x).attr("cy",y).attr("r",3.8*k).attr("fill",color);
  else if(type==="x") g.append("path").attr("d",xPath(5*k)).attr("transform",`translate(${x},${y})`).attr("stroke",color).attr("stroke-width",2).attr("fill","none");
}

// ===== LEFT =====
const L = {left:51, right:542.7, top:30.5, bottom:421.7};
const xL = d3.scaleLinear().domain([-24.6,403.4]).range([L.left,L.right]);
const yL = d3.scaleLinear().domain([0,0.15]).range([L.bottom,L.top]);
const gL = svg.append("g");
gL.append("defs").append("clipPath").attr("id","clipL").append("rect")
  .attr("x",L.left).attr("y",L.top).attr("width",L.right-L.left).attr("height",L.bottom-L.top);
gL.append("rect").attr("x",xL(shadedSpan[0])).attr("y",L.top).attr("width",xL(shadedSpan[1])-xL(shadedSpan[0]))
  .attr("height",L.bottom-L.top).attr("fill","#f7f7f7");

const plotL = gL.append("g").attr("clip-path","url(#clipL)");
const series = [
  {tru:trueId, est:estId, color:C.blue, marker:"star"},
  {tru:trueF1, est:estF1, color:C.orange, marker:"circle"},
  {tru:trueF2, est:estF2, color:C.green, marker:"tri"},
  {tru:trueF3, est:estF3, color:C.red, marker:"x"}
];
const lineTrue = d3.line().x(d=>xL(d[0])).y(d=>yL(d[1])).curve(d3.curveMonotoneX);
series.forEach(s=>{
  const pts = trueMinutes.map((m,i)=>[m,s.tru[i]]);
  plotL.append("path").attr("d",lineTrue(pts)).attr("fill","none").attr("stroke",s.color)
    .attr("stroke-width",2.2).attr("stroke-dasharray","7.4,3.4");
  trueMarkerMinutes.forEach(m=>{const i=trueMinutes.indexOf(m);drawMarker(plotL,s.marker,s.color,xL(m),yL(s.tru[i]));});
  const stepPts=[];
  for(let k=0;k<s.est.length;k++){stepPts.push([estBreaks[k],s.est[k]]);stepPts.push([estBreaks[k+1],s.est[k]]);}
  const ln = d3.line().x(d=>xL(d[0])).y(d=>yL(d[1]));
  plotL.append("path").attr("d",ln(stepPts)).attr("fill","none").attr("stroke",s.color)
    .attr("stroke-width",3.3).attr("stroke-linejoin","miter").attr("stroke-opacity",0.9);
  estMarkerMinutes.forEach((ms,k)=>ms.forEach(m=>drawMarker(plotL,s.marker,s.color,xL(m),yL(s.est[k]))));
});

const axL = gL.append("g").attr("font-family",SERIF).attr("font-size",18.5).attr("fill","#222");
yTicksLeft.forEach(v=>{
  axL.append("line").attr("x1",L.left-5).attr("x2",L.left).attr("y1",yL(v)).attr("y2",yL(v)).attr("stroke","#222").attr("stroke-width",1);
  axL.append("text").attr("x",L.left-9).attr("y",yL(v)).attr("dy","0.34em").attr("text-anchor","end").text(v.toFixed(2));
});
timeTickMinutes.forEach((m,i)=>{
  axL.append("line").attr("x1",xL(m)).attr("x2",xL(m)).attr("y1",L.bottom).attr("y2",L.bottom+5).attr("stroke","#222");
  axL.append("text").attr("transform",`translate(${xL(m)},${L.bottom+9}) rotate(-90)`).attr("text-anchor","end")
    .attr("dy","0.34em").text(timeTickLabels[i]);
});
gL.append("rect").attr("x",L.left).attr("y",L.top).attr("width",L.right-L.left).attr("height",L.bottom-L.top)
  .attr("fill","none").attr("stroke","#222").attr("stroke-width",1.2);
gL.append("text").attr("x",(L.left+L.right)/2).attr("y",20).attr("text-anchor","middle")
  .attr("font-family",SANS).attr("font-size",18.5).attr("fill","#111").text("Estimated coefficients");

// legend left
const lg = gL.append("g");
lg.append("rect").attr("x",111).attr("y",39).attr("width",423).attr("height",114).attr("rx",3)
  .attr("fill","#fff").attr("fill-opacity",0.85).attr("stroke","#d0d0d0").attr("stroke-width",1);
const legItems = [
  {col:0,row:0,color:C.blue,marker:"star",dash:true,pre:"Effective true ",acc:"bar",sub1:"id,",sub2:"t"},
  {col:0,row:1,color:C.blue,marker:"star",dash:false,pre:"Estimated ",acc:"hat",sub1:"id,",sub2:"t"},
  {col:0,row:2,color:C.orange,marker:"circle",dash:true,pre:"Effective true ",acc:"bar",sub1:"f,1",sub2:"t"},
  {col:0,row:3,color:C.orange,marker:"circle",dash:false,pre:"Estimated ",acc:"hat",sub1:"f,1",sub2:"t"},
  {col:1,row:0,color:C.green,marker:"tri",dash:true,pre:"Effective true ",acc:"bar",sub1:"f,2",sub2:"t"},
  {col:1,row:1,color:C.green,marker:"tri",dash:false,pre:"Estimated ",acc:"hat",sub1:"f,2",sub2:"t"},
  {col:1,row:2,color:C.red,marker:"x",dash:true,pre:"Effective true ",acc:"bar",sub1:"f,3",sub2:"t"},
  {col:1,row:3,color:C.red,marker:"x",dash:false,pre:"Estimated ",acc:"hat",sub1:"f,3",sub2:"t"}
];
legItems.forEach(it=>{
  const hx = it.col? 341 : 123.5, tx = it.col? 395 : 175, y = 55 + it.row*26.9;
  const l = lg.append("line").attr("x1",hx).attr("x2",hx+38).attr("y1",y).attr("y2",y).attr("stroke",it.color)
    .attr("stroke-width",it.dash?2.2:3.3);
  if(it.dash) l.attr("stroke-dasharray","9,4");
  drawMarker(lg,it.marker,it.color,hx+19,y,0.8);
  const t = lg.append("text").attr("x",tx).attr("y",y+5.5).attr("font-size",15).attr("fill","#111");
  t.append("tspan").attr("font-family",SANS).text(it.pre);
  t.append("tspan").attr("font-family",SERIF).attr("font-style","italic").attr("font-size",18).text("\u03bd");
  t.append("tspan").attr("font-family",SERIF).attr("font-size",12.5).attr("dy",3.5).attr("dx",0.5).text(it.sub1);
  t.append("tspan").attr("font-family",SERIF).attr("font-style","italic").attr("font-size",12.5).text(it.sub2);
  const node = t.node(), idx = it.pre.length;
  const ext = node.getExtentOfChar(idx), base = y+5.5;
  const cx = ext.x + ext.width/2 + 1.2, top = base - 13.5;
  if(it.acc==="bar") lg.append("line").attr("x1",cx-3.6).attr("x2",cx+3.6).attr("y1",top).attr("y2",top)
     .attr("stroke","#111").attr("stroke-width",1);
  else lg.append("path").attr("d",`M${cx-3.2},${top+2}L${cx},${top-1.6}L${cx+3.2},${top+2}`)
     .attr("stroke","#111").attr("stroke-width",1).attr("fill","none");
});

// ===== RIGHT =====
const R = {left:678, right:1162, top:33, bottom:421};
const xR = d3.scaleLinear().domain([0,8]).range([R.left,R.right]);
const yR = d3.scaleLinear().domain([0,8]).range([R.bottom,R.top]);
const gR = svg.append("g");
gR.append("defs").append("clipPath").attr("id","clipR").append("rect")
  .attr("x",R.left).attr("y",R.top).attr("width",R.right-R.left).attr("height",R.bottom-R.top);
const plotR = gR.append("g").attr("clip-path","url(#clipR)");
plotR.append("g").selectAll("path").data(idioPoints.concat(idioPointsDense, idioPointsCore)).join("path")
  .attr("d",xPath(5)).attr("transform",d=>`translate(${xR(d[0])},${yR(d[1])})`)
  .attr("stroke",C.blue).attr("stroke-width",1.6).attr("stroke-opacity",0.5).attr("fill","none");
plotR.append("g").selectAll("circle").data(crossPoints.concat(crossPointsDense, crossPointsCore)).join("circle")
  .attr("cx",d=>xR(d[0])).attr("cy",d=>yR(d[1])).attr("r",3.6).attr("fill",C.orange).attr("fill-opacity",0.5);
plotR.append("path").attr("d",d3.line().x(d=>xR(d[0])).y(d=>yR(d[1]))(groundTruth))
  .attr("stroke",C.gray).attr("stroke-width",3).attr("stroke-dasharray","11,5").attr("fill","none");

const axR = gR.append("g").attr("font-family",SERIF).attr("font-size",18.5).attr("fill","#222");
xTicksRight.forEach(v=>{
  axR.append("line").attr("x1",xR(v)).attr("x2",xR(v)).attr("y1",R.bottom).attr("y2",R.bottom+5).attr("stroke","#222");
  axR.append("text").attr("x",xR(v)).attr("y",R.bottom+21).attr("text-anchor","middle").text(v);
});
yTicksRight.forEach(v=>{
  axR.append("line").attr("x1",R.left-5).attr("x2",R.left).attr("y1",yR(v)).attr("y2",yR(v)).attr("stroke","#222");
  axR.append("text").attr("x",R.left-9).attr("y",yR(v)).attr("dy","0.34em").attr("text-anchor","end").text(v);
});
gR.append("rect").attr("x",R.left).attr("y",R.top).attr("width",R.right-R.left).attr("height",R.bottom-R.top)
  .attr("fill","none").attr("stroke","#222").attr("stroke-width",1.2);
gR.append("text").attr("x",(R.left+R.right)/2).attr("y",20).attr("text-anchor","middle")
  .attr("font-family",SANS).attr("font-size",19).attr("fill","#111").text("Five-minute implementation shortfall");
gR.append("text").attr("x",(R.left+R.right)/2).attr("y",468).attr("text-anchor","middle")
  .attr("font-family",SANS).attr("font-size",16.5).attr("fill","#111").text("True (expected) implementation shortfall [bp]");
gR.append("text").attr("transform",`translate(643,${(R.top+R.bottom)/2}) rotate(-90)`).attr("text-anchor","middle")
  .attr("font-family",SANS).attr("font-size",16).attr("fill","#111").text("Predicted implementation shortfall [bp]");

const lgR = gR.append("g");
lgR.append("rect").attr("x",875).attr("y",330).attr("width",284).attr("height",80).attr("rx",3)
  .attr("fill","#fff").attr("fill-opacity",0.85).attr("stroke","#d0d0d0");
const rItems = [
  {y:345.5, type:"x", label:"Idiosyncratic (diagonal) model"},
  {y:371, type:"o", label:"Cross-impact model"},
  {y:395.5, type:"line", label:"Ground-truth model"}
];
rItems.forEach(it=>{
  if(it.type==="x") lgR.append("path").attr("d",xPath(5)).attr("transform",`translate(900,${it.y})`)
    .attr("stroke",C.blue).attr("stroke-width",1.6).attr("stroke-opacity",0.5).attr("fill","none");
  if(it.type==="o") lgR.append("circle").attr("cx",900).attr("cy",it.y).attr("r",3.6).attr("fill",C.orange).attr("fill-opacity",0.5);
  if(it.type==="line") lgR.append("line").attr("x1",882).attr("x2",913).attr("y1",it.y).attr("y2",it.y)
    .attr("stroke",C.gray).attr("stroke-width",3).attr("stroke-dasharray","11,5");
  lgR.append("text").attr("x",931).attr("y",it.y).attr("dy","0.36em").attr("font-family",SANS).attr("font-size",16.5)
    .attr("fill","#111").text(it.label);
});
</script>
</body></html>
